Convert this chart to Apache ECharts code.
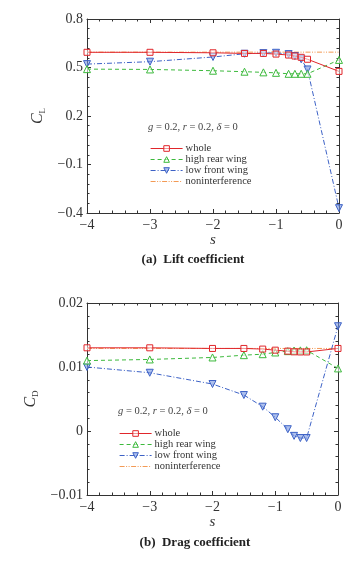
<!DOCTYPE html>
<html>
<head>
<meta charset="utf-8">
<script src="https://cdn.jsdelivr.net/npm/echarts@6/dist/echarts.min.js"></script>
<style>
  html, body { margin: 0; padding: 0; background: #fff; }
  #chart { width: 361px; height: 561px; }
</style>
</head>
<body>
<div id="chart"></div>
<script>
// spacing s (x axis)
const sValues = [-4, -3, -2, -1.5, -1.2, -1.0, -0.8, -0.7, -0.6, -0.5, 0]
const nonS = [-4, 0]

// (a) lift coefficient
const liftWhole = [0.594, 0.594, 0.591, 0.587, 0.587, 0.583, 0.577, 0.571, 0.563, 0.551, 0.476]
const liftRear = [0.490, 0.488, 0.480, 0.474, 0.470, 0.467, 0.461, 0.461, 0.461, 0.461, 0.547]
const liftFront = [0.521, 0.536, 0.565, 0.585, 0.589, 0.591, 0.583, 0.571, 0.551, 0.488, -0.37]
const liftNon = [0.595, 0.595]

// (b) drag coefficient
const dragWhole = [0.0130, 0.0130, 0.0129, 0.0129, 0.0128, 0.01263, 0.01248, 0.01237, 0.01235, 0.01235, 0.0129]
const dragRear = [0.0110, 0.01118, 0.01149, 0.01185, 0.0120, 0.01227, 0.01248, 0.01258, 0.0126, 0.01262, 0.00978]
const dragFront = [0.0100, 0.0091, 0.00734, 0.00562, 0.0038, 0.00215, 0.00028, -0.00076, -0.0011, -0.0011, 0.01637]
const dragNon = [0.0129, 0.0129]

const names = ['whole', 'high rear wing', 'low front wing', 'noninterference']
const colors = { whole: '#e0262b', rear: '#3cb93c', front: '#3d62c6', non: '#f39a55' }
const dashes = { whole: 'solid', rear: [4, 3], front: [5, 2, 1, 2], non: [5, 1.5, 1, 1.5, 1, 1.5] }

const serif = '"Liberation Serif", "DejaVu Serif", serif'
const minus = v => String(v).replace('-', '\u2212')
const pairs = (xs, ys) => xs.map((x, i) => [x, ys[i]])

const frameAxis = (extra) => Object.assign({
  type: 'value',
  axisLine: { show: true, onZero: false, lineStyle: { color: '#333', width: 1 } },
  axisTick: { show: true, inside: true, length: 4, lineStyle: { color: '#333' } },
  minorTick: { show: true, splitNumber: 5, length: 2.5, lineStyle: { color: '#333' } },
  splitLine: { show: false },
  axisLabel: { show: false }
}, extra)

const label = (fmt, margin) => ({
  show: true, margin, color: '#333', fontFamily: serif, fontSize: 14, formatter: fmt
})

const xFmt = v => minus(v)
const liftFmt = v => minus(v.toFixed(1))
const dragFmt = v => v === 0 ? '0' : minus(v.toFixed(2))

const xAxes = []
const yAxes = []
;[0, 1].forEach(g => {
  xAxes.push(frameAxis({
    gridIndex: g, position: 'bottom', min: -4, max: 0, interval: 1,
    axisLabel: label(xFmt, 5),
    name: 's', nameLocation: 'middle', nameGap: 19,
    nameTextStyle: { fontFamily: serif, fontStyle: 'italic', fontSize: 15, color: '#333' }
  }))
  xAxes.push(frameAxis({ gridIndex: g, position: 'top', min: -4, max: 0, interval: 1 }))
})

const yName = (sub) => ({
  name: '{c|C}{s|' + sub + '}', nameLocation: 'middle', nameGap: 32, nameRotate: 90,
  nameTextStyle: {
    rich: {
      c: { fontFamily: serif, fontStyle: 'italic', fontSize: 16, color: '#333', lineHeight: 18 },
      s: { fontFamily: serif, fontSize: 9, color: '#333', verticalAlign: 'bottom', lineHeight: 18, padding: [6, 0, 0, 0] }
    }
  }
})

yAxes.push(frameAxis(Object.assign({
  gridIndex: 0, position: 'left', min: -0.4, max: 0.8, interval: 0.3,
  axisLabel: label(liftFmt, 4)
}, yName('L'))))
yAxes.push(frameAxis({ gridIndex: 0, position: 'right', min: -0.4, max: 0.8, interval: 0.3 }))
yAxes.push(frameAxis(Object.assign({
  gridIndex: 1, position: 'left', min: -0.01, max: 0.02, interval: 0.01,
  axisLabel: label(dragFmt, 4)
}, yName('D'))))
yAxes.push(frameAxis({ gridIndex: 1, position: 'right', min: -0.01, max: 0.02, interval: 0.01 }))

const makeSeries = (axisIdx, whole, rear, front, non) => [
  {
    name: names[3], type: 'line', xAxisIndex: axisIdx * 2, yAxisIndex: axisIdx * 2,
    data: pairs(nonS, non), symbol: 'none', z: 2,
    lineStyle: { color: colors.non, width: 1, type: dashes.non },
    itemStyle: { color: colors.non }
  },
  {
    name: names[2], type: 'line', xAxisIndex: axisIdx * 2, yAxisIndex: axisIdx * 2,
    data: pairs(sValues, front), symbol: 'triangle', symbolRotate: 180, symbolSize: 7, z: 3,
    lineStyle: { color: colors.front, width: 1, type: dashes.front },
    itemStyle: { color: 'rgba(120,150,225,0.6)', borderColor: colors.front, borderWidth: 1 }
  },
  {
    name: names[1], type: 'line', xAxisIndex: axisIdx * 2, yAxisIndex: axisIdx * 2,
    data: pairs(sValues, rear), symbol: 'triangle', symbolSize: 7, z: 4,
    lineStyle: { color: colors.rear, width: 1, type: dashes.rear },
    itemStyle: { color: 'rgba(255,255,255,0.6)', borderColor: colors.rear, borderWidth: 1 }
  },
  {
    name: names[0], type: 'line', xAxisIndex: axisIdx * 2, yAxisIndex: axisIdx * 2,
    data: pairs(sValues, whole), symbol: 'rect', symbolSize: 6, z: 5,
    lineStyle: { color: colors.whole, width: 1 },
    itemStyle: { color: 'rgba(255,255,255,0.5)', borderColor: colors.whole, borderWidth: 1 }
  }
]

const legendBase = {
  orient: 'vertical', padding: 0, itemGap: 0,
  data: [
    { name: names[0], lineStyle: { color: colors.whole, width: 1.2, type: dashes.whole } },
    { name: names[1], lineStyle: { color: colors.rear, width: 1.2, type: dashes.rear } },
    { name: names[2], lineStyle: { color: colors.front, width: 1.2, type: dashes.front } },
    { name: names[3], lineStyle: { color: colors.non, width: 1.2, type: dashes.non }, itemStyle: { opacity: 0 } }
  ],
  itemWidth: 32, itemHeight: 7,
  itemStyle: { borderWidth: 1 },
  textStyle: { fontFamily: serif, fontSize: 10.5, color: '#333', lineHeight: 9, padding: [0, 0, 0, -2] }
}

const annoText = '{i|g} = 0.2, {i|r} = 0.2, {i|\u03b4} = 0'
const annoStyle = {
  fontFamily: serif, fontSize: 10.5, color: '#444', fontWeight: 'normal',
  rich: { i: { fontFamily: serif, fontStyle: 'italic', fontSize: 10.5, color: '#444' } }
}
const capStyle = { fontFamily: serif, fontSize: 13, fontWeight: 'bold', color: '#222' }

const chart = echarts.init(document.getElementById('chart'))
chart.setOption({
  animation: false,
  grid: [
    { left: 87, top: 19, width: 252, height: 194 },
    { left: 87, top: 303, width: 251, height: 192 }
  ],
  title: [
    { text: '(a)  Lift coefficient', left: 193, top: 253, textAlign: 'center', textStyle: capStyle, padding: 0 },
    { text: '(b)  Drag coefficient', left: 195, top: 536, textAlign: 'center', textStyle: capStyle, padding: 0 },
    { text: annoText, left: 148, top: 122, textStyle: annoStyle, padding: 0 },
    { text: annoText, left: 118, top: 406, textStyle: annoStyle, padding: 0 }
  ],
  legend: [
    Object.assign({ left: 150, top: 143 }, legendBase),
    Object.assign({ left: 119, top: 428 }, legendBase)
  ],
  xAxis: xAxes,
  yAxis: yAxes,
  series: makeSeries(0, liftWhole, liftRear, liftFront, liftNon)
    .concat(makeSeries(1, dragWhole, dragRear, dragFront, dragNon))
})
</script>
</body>
</html>
